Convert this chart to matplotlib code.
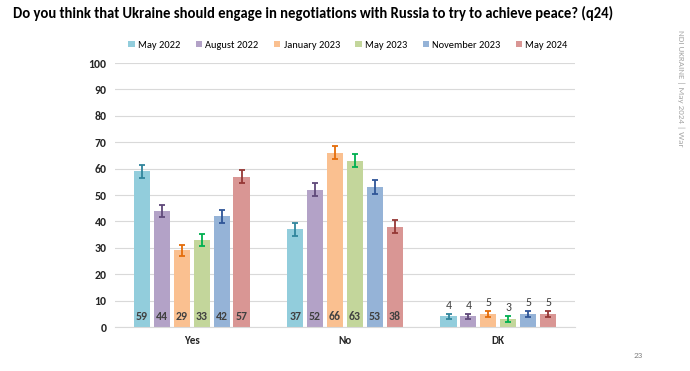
import matplotlib.pyplot as plt
import numpy as np

# Data
categories = ['Yes', 'No', 'DK']
waves = ['May 2022', 'August 2022', 'January 2023', 'May 2023', 'November 2023', 'May 2024']
values = {
    'May 2022':      [59, 37, 4],
    'August 2022':   [44, 52, 4],
    'January 2023':  [29, 66, 5],
    'May 2023':      [33, 63, 3],
    'November 2023': [42, 53, 5],
    'May 2024':      [57, 38, 5],
}
errors = {
    'May 2022':      [2.5, 2.4, 1.0],
    'August 2022':   [2.4, 2.5, 1.0],
    'January 2023':  [2.2, 2.4, 1.1],
    'May 2023':      [2.3, 2.4, 1.0],
    'November 2023': [2.5, 2.6, 1.1],
    'May 2024':      [2.5, 2.5, 1.1],
}
bar_colors = ['#92CDDC', '#B3A2C7', '#FAC090', '#C3D69B', '#95B3D7', '#D99694']
err_colors = ['#31859C', '#5F497A', '#E46C0A', '#00B050', '#2F5597', '#953735']

plt.rcParams['font.family'] = ['Carlito', 'Lato', 'DejaVu Sans']

fig = plt.figure(figsize=(6.9, 3.71), dpi=100)
ax = fig.add_axes([115 / 690, 1 - 327 / 371, 460 / 690, 264 / 371])

x = np.arange(len(categories))
width = 0.105
step = 0.13
for i, w in enumerate(waves):
    pos = x + (i - 2.5) * step
    ax.bar(pos, values[w], width, color=bar_colors[i], label=w, zorder=2)
    ax.errorbar(pos, values[w], yerr=errors[w], fmt='none', ecolor=err_colors[i],
                elinewidth=1.3, capsize=2.5, capthick=1.3, zorder=3)
    for j, v in enumerate(values[w]):
        if categories[j] == 'DK':
            ax.text(pos[j], v + errors[w][j] + 1.2, str(v), ha='center', va='bottom',
                    fontsize=8.5, color='#404040')
        else:
            ax.text(pos[j], 1.8, str(v), ha='center', va='bottom',
                    fontsize=8.5, color='#404040', fontweight='bold')

ax.set_ylim(0, 100)
ax.set_xlim(-0.5, 2.5)
ax.set_yticks(range(0, 101, 10))
ax.set_xticks(x)
ax.set_xticklabels(categories, fontsize=8, fontweight='bold', color='#262626')
ax.tick_params(axis='y', labelsize=8.5, colors='#262626', length=0, pad=6)
ax.tick_params(axis='x', length=0, pad=6)
for lbl in ax.get_yticklabels():
    lbl.set_fontweight('bold')
ax.yaxis.grid(True, color='#D9D9D9', linewidth=0.8, zorder=0)
ax.set_axisbelow(True)
for s in ['top', 'right', 'left']:
    ax.spines[s].set_visible(False)
ax.spines['bottom'].set_color('#D9D9D9')

fig.legend(loc='center', bbox_to_anchor=(348 / 690, 1 - 45 / 371), ncol=6, frameon=False,
           fontsize=7.5, handlelength=0.6, handleheight=0.6,
           handletextpad=0.3, columnspacing=1.5)

fig.text(13 / 690, 1 - 13 / 371,
         'Do you think that Ukraine should engage in negotiations with Russia to try to achieve peace? (q24)',
         fontsize=10.5, fontweight='bold', va='center', ha='left', color='#000000')
fig.text(681 / 690, 1 - 88 / 371, 'NDI UKRAINE | May 2024 | War', rotation=270,
         fontsize=6.5, color='#A6A6A6', ha='center', va='center')
fig.text(638 / 690, 1 - 355 / 371, '23', fontsize=6.5, color='#808080', ha='center', va='center')

fig.savefig('out.png', dpi=100)
